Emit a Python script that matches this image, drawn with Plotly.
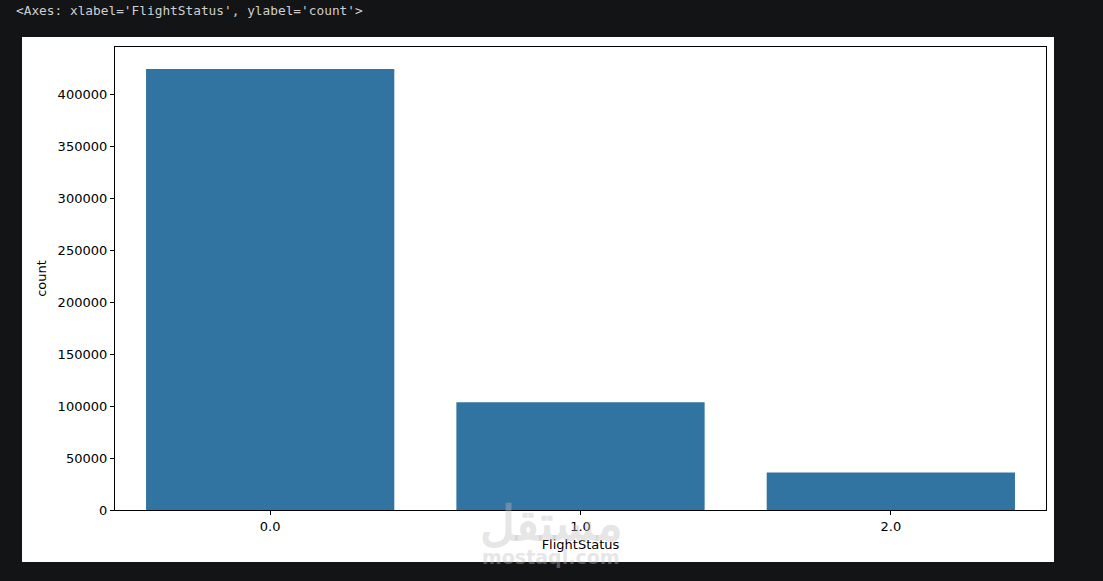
import plotly.graph_objects as go

# data
categories = ["0.0", "1.0", "2.0"]
counts = [424000, 103500, 36100]
y_ticks = [0, 50000, 100000, 150000, 200000, 250000, 300000, 350000, 400000]

bar_color = "#3274a1"
dark_bg = "#131416"

W, H = 1103, 581
left, right, top, bottom = 115, 1046, 47, 510


def px_x(x):
    return (x - left) / (right - left)


def px_y(y):
    return (bottom - y) / (bottom - top)


fig = go.Figure()
fig.add_trace(go.Bar(
    x=categories,
    y=counts,
    width=0.8,
    marker=dict(color=bar_color, line=dict(width=0)),
    showlegend=False,
))

axis_font = dict(family="DejaVu Sans", size=13, color="#000000")

fig.update_layout(
    width=W,
    height=H,
    paper_bgcolor=dark_bg,
    plot_bgcolor="white",
    margin=dict(l=left, r=W - right, t=top, b=H - bottom),
    font=axis_font,
    xaxis=dict(
        type="category",
        range=[-0.5, 2.5],
        showgrid=False,
        zeroline=False,
        showline=True,
        linecolor="black",
        linewidth=1.3,
        mirror=True,
        ticks="outside",
        ticklen=4,
        tickcolor="black",
        tickfont=axis_font,
        title=dict(text="FlightStatus", font=axis_font, standoff=7),
    ),
    yaxis=dict(
        range=[0, 445200],
        tickvals=y_ticks,
        tickformat="d",
        showgrid=False,
        zeroline=False,
        showline=True,
        linecolor="black",
        linewidth=1.3,
        mirror=True,
        ticks="outside",
        ticklen=4,
        tickcolor="black",
        tickfont=axis_font,
        title=dict(text="count", font=axis_font, standoff=8),
    ),
    shapes=[dict(
        type="rect", xref="paper", yref="paper", layer="below",
        x0=px_x(22), x1=px_x(1054), y0=px_y(562), y1=px_y(37),
        fillcolor="white", line=dict(width=0),
    )],
    annotations=[
        dict(
            text="<Axes: xlabel='FlightStatus', ylabel='count'>",
            xref="paper", yref="paper", x=px_x(14), y=px_y(10),
            xanchor="left", yanchor="middle", showarrow=False,
            font=dict(family="DejaVu Sans Mono", size=12.8, color="#cfcfcf"),
        ),
        dict(
            text="<b>مستقل</b>",
            xref="paper", yref="paper", x=px_x(551), y=px_y(521),
            xanchor="center", yanchor="middle", showarrow=False,
            font=dict(family="Noto Sans", size=48, color="rgba(190,190,190,0.4)"),
        ),
        dict(
            text="<b>mostaql.com</b>",
            xref="paper", yref="paper", x=px_x(551), y=px_y(557),
            xanchor="center", yanchor="middle", showarrow=False,
            font=dict(family="DejaVu Sans", size=19, color="rgba(190,190,190,0.4)"),
        ),
    ],
)

fig.write_html(
    "out.html",
    config={"displayModeBar": False},
    post_script="document.body.style.margin='0';document.body.style.background='%s';" % dark_bg,
)
